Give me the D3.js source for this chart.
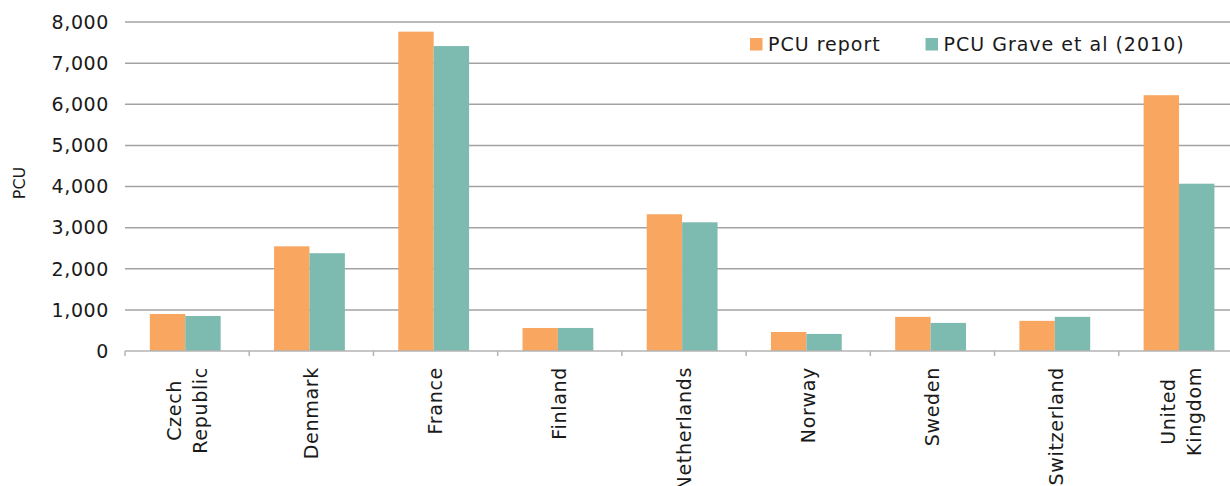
<!DOCTYPE html>
<html lang="en">
<head>
    <meta charset="UTF-8">
    <title>PCU by country</title>
    <script src="https://d3js.org/d3.v7.min.js"></script>
    <style>
        body { margin: 0; background: #fff; }
        text { font-family: "DejaVu Sans", Verdana, sans-serif; fill: #1a1a1a; }
        .grid line { stroke: #a3a3a3; stroke-width: 1.5px; }
    </style>
</head>
<body>
    <div id="chart"></div>

    <script>
        const countries = ["Czech\nRepublic", "Denmark", "France", "Finland", "Netherlands",
                           "Norway", "Sweden", "Switzerland", "United\nKingdom"];
        const seriesNames = ["PCU report", "PCU Grave et al (2010)"];
        const pcuReport = [900, 2545, 7765, 560, 3325, 462, 830, 733, 6220];
        const pcuGrave = [852, 2378, 7415, 560, 3130, 415, 683, 830, 4068];
        const yTicks = [0, 1000, 2000, 3000, 4000, 5000, 6000, 7000, 8000];
        const colors = ["#f8a660", "#7dbbb1"];

        const width = 1230, height = 486;
        const plotLeft = 125, plotRight = 1243, plotTop = 22, plotBottom = 351;

        const svg = d3.select("#chart").append("svg")
            .attr("width", width)
            .attr("height", height);

        const x = d3.scaleBand().domain(countries).range([plotLeft, plotRight]);
        const xs = d3.scaleBand().domain(seriesNames)
            .range([x.bandwidth() * 0.2, x.bandwidth() * 0.77]);
        const y = d3.scaleLinear().domain([0, 8000]).range([plotBottom, plotTop]);

        // gridlines (not at 0)
        svg.append("g").attr("class", "grid")
            .selectAll("line")
            .data(yTicks.filter(d => d > 0))
            .enter().append("line")
            .attr("x1", plotLeft).attr("x2", plotRight)
            .attr("y1", d => y(d)).attr("y2", d => y(d));

        // y tick labels
        svg.append("g").selectAll("text")
            .data(yTicks)
            .enter().append("text")
            .attr("x", plotLeft - 16)
            .attr("y", d => y(d))
            .attr("dy", "0.36em")
            .attr("text-anchor", "end")
            .style("font-size", "19px")
            .style("letter-spacing", "0.6px")
            .text(d => d3.format(",")(d));

        // y title
        svg.append("text")
            .attr("transform", "translate(25,183) rotate(-90)")
            .attr("text-anchor", "middle")
            .style("font-size", "16px")
            .text("PCU");

        // bars
        const series = [pcuReport, pcuGrave];
        const groups = svg.append("g").selectAll("g")
            .data(countries)
            .enter().append("g")
            .attr("transform", d => `translate(${x(d)},0)`);

        groups.selectAll("rect")
            .data((d, i) => seriesNames.map((s, j) => ({ s, v: series[j][i], c: colors[j] })))
            .enter().append("rect")
            .attr("x", d => xs(d.s))
            .attr("width", xs.bandwidth())
            .attr("y", d => y(d.v))
            .attr("height", d => y(0) - y(d.v))
            .attr("fill", d => d.c);

        // x axis line + boundary ticks
        svg.append("line")
            .attr("x1", plotLeft).attr("x2", plotRight)
            .attr("y1", plotBottom).attr("y2", plotBottom)
            .attr("stroke", "#b3b3b3").attr("stroke-width", 1.5);
        svg.append("g").selectAll("line")
            .data(d3.range(countries.length + 1))
            .enter().append("line")
            .attr("x1", i => plotLeft + i * x.step())
            .attr("x2", i => plotLeft + i * x.step())
            .attr("y1", plotBottom).attr("y2", plotBottom + 5)
            .attr("stroke", "#b3b3b3").attr("stroke-width", 1.5);

        // x labels, rotated, multi-line centred
        countries.forEach(c => {
            const lines = c.split("\n");
            const g = svg.append("g")
                .attr("transform", `translate(${x(c) + x.bandwidth() / 2},367) rotate(-90)`);
            const texts = lines.map((l, i) => g.append("text")
                .attr("y", (i - (lines.length - 1) / 2) * 26)
                .attr("dy", "0.35em")
                .attr("text-anchor", "middle")
                .style("font-size", "19px")
                .style("letter-spacing", "0.7px")
                .text(l));
            const maxLen = d3.max(texts, t => t.node().getComputedTextLength());
            texts.forEach(t => t.attr("x", -maxLen / 2));
        });

        // legend
        const legendX = [750, 925.5];
        const legend = svg.append("g").selectAll("g")
            .data(seriesNames)
            .enter().append("g")
            .attr("transform", (d, i) => `translate(${legendX[i]},38)`);
        legend.append("rect")
            .attr("width", 12.5).attr("height", 12.5)
            .attr("fill", (d, i) => colors[i]);
        legend.append("text")
            .attr("x", 18)
            .attr("y", 6.5)
            .attr("dy", "0.36em")
            .style("font-size", "19px")
            .style("letter-spacing", "1px")
            .text(d => d);
    </script>
</body>
</html>
